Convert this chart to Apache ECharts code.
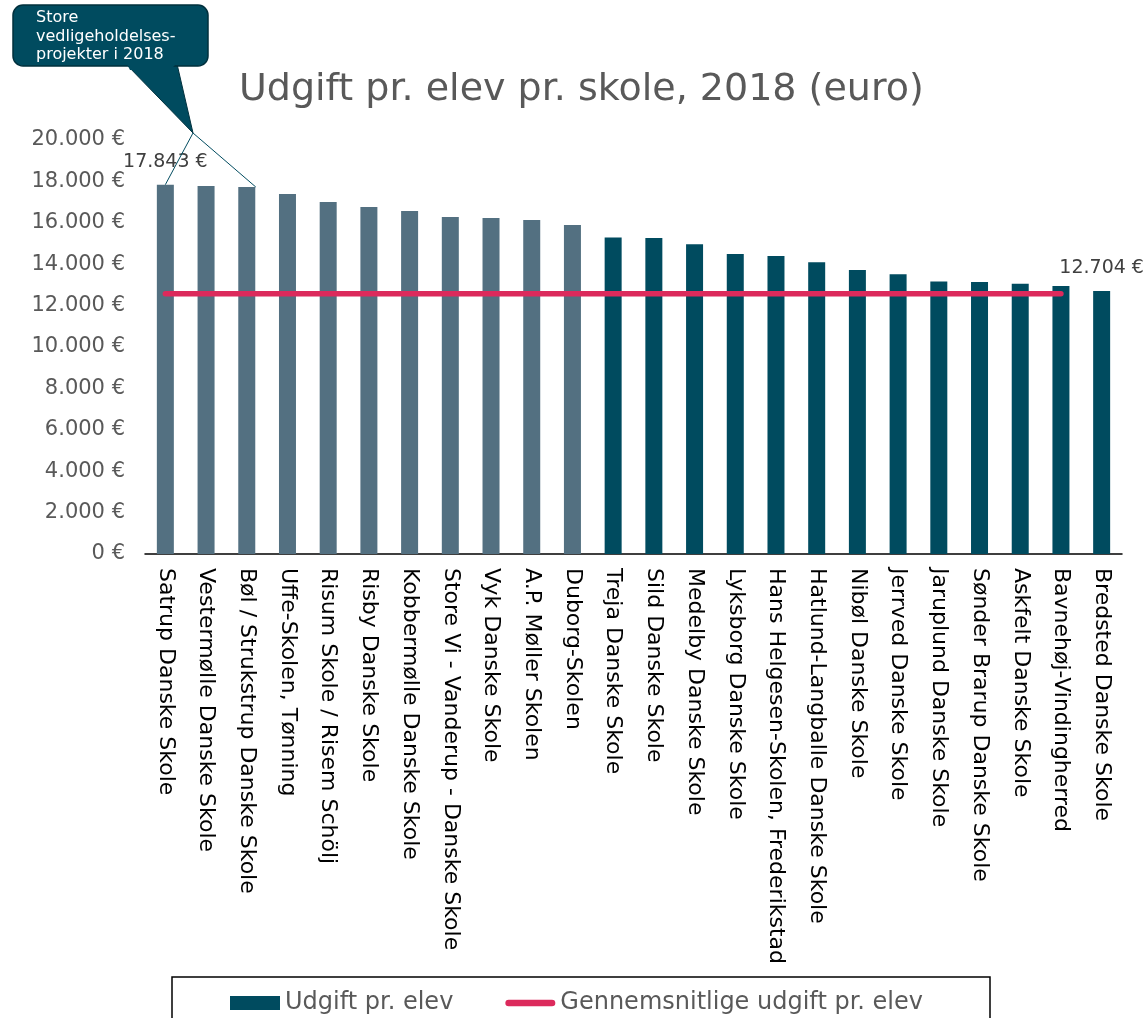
<!DOCTYPE html>
<html>
<head>
<meta charset="utf-8">
<script src="https://cdn.jsdelivr.net/npm/echarts@6/dist/echarts.min.js"></script>
<style>
  html, body { margin: 0; padding: 0; background: #fff; }
  #chart { width: 1144px; height: 1018px; }
</style>
</head>
<body>
<div id="chart"></div>
<script>
// skoler, sorteret efter udgift
const schools = [
  "Satrup Danske Skole", "Vestermølle Danske Skole", "Bøl / Strukstrup Danske Skole",
  "Uffe-Skolen, Tønning", "Risum Skole / Risem Schölj", "Risby Danske Skole",
  "Kobbermølle Danske Skole", "Store Vi - Vanderup - Danske Skole", "Vyk Danske Skole",
  "A.P. Møller Skolen", "Duborg-Skolen", "Treja Danske Skole", "Sild Danske Skole",
  "Medelby Danske Skole", "Lyksborg Danske Skole", "Hans Helgesen-Skolen, Frederikstad",
  "Hatlund-Langballe Danske Skole", "Nibøl Danske Skole", "Jerrved Danske Skole",
  "Jaruplund Danske Skole", "Sønder Brarup Danske Skole", "Askfelt Danske Skole",
  "Bavnehøj-Vindingherred", "Bredsted Danske Skole"
];
const spendPerPupil = [
  17843, 17780, 17730, 17390, 17000, 16760, 16570, 16280, 16230, 16130, 15890, 15290,
  15270, 14960, 14490, 14400, 14090, 13720, 13510, 13170, 13140, 13060, 12950, 12704
];
const averageSpend = [
  12570, 12570, 12570, 12570, 12570, 12570, 12570, 12570, 12570, 12570, 12570, 12570,
  12570, 12570, 12570, 12570, 12570, 12570, 12570, 12570, 12570, 12570, 12570, null
];
const yTicks = [0, 2000, 4000, 6000, 8000, 10000, 12000, 14000, 16000, 18000, 20000];
const maintenanceCount = 11; // skoler med store vedligeholdelsesprojekter
const labelled = [0, 23];

const font = "DejaVu Sans";
const grey = "#537081";
const teal = "#004B5F";
const pink = "#DC2A5C";

function euro(v) {
  return String(v).replace(/\B(?=(\d{3})+(?!\d))/g, ".") + " €";
}

const chart = echarts.init(document.getElementById("chart"));

const option = {
  animation: false,
  textStyle: { fontFamily: font },
  title: {
    text: "Udgift pr. elev pr. skole, 2018 (euro)",
    left: 234,
    top: 66,
    textStyle: { fontFamily: font, fontSize: 38, fontWeight: "normal", color: "#595959" }
  },
  grid: { left: 145, right: 22, top: 140, bottom: 464, containLabel: false },
  legend: {
    left: 225,
    top: 986,
    itemWidth: 50,
    itemHeight: 14,
    itemGap: 52,
    textStyle: { fontFamily: font, fontSize: 24, color: "#595959" },
    data: [
      { name: "Udgift pr. elev", icon: "rect" },
      {
        name: "Gennemsnitlige udgift pr. elev",
        icon: "path://M3,0 H42 A3,3 0 0 1 42,6 H3 A3,3 0 0 1 3,0 Z",
        itemStyle: { color: pink }
      }
    ]
  },
  xAxis: {
    type: "category",
    data: schools,
    axisLine: { lineStyle: { color: "#000", width: 1.5 } },
    axisTick: { show: false },
    axisLabel: {
      rotate: -90,
      interval: 0,
      margin: 14,
      fontFamily: font,
      fontSize: 22,
      color: "#000"
    }
  },
  yAxis: {
    type: "value",
    min: yTicks[0],
    max: yTicks[yTicks.length - 1],
    interval: 2000,
    splitLine: { show: false },
    axisLine: { show: false },
    axisTick: { show: false },
    axisLabel: {
      margin: 20,
      fontFamily: font,
      fontSize: 21,
      color: "#595959",
      formatter: euro
    }
  },
  series: [
    {
      name: "Udgift pr. elev",
      type: "bar",
      barWidth: 17,
      itemStyle: { color: teal },
      data: spendPerPupil.map((v, i) => ({
        value: v,
        itemStyle: i < maintenanceCount ? { color: grey } : undefined,
        label: labelled.includes(i) ? { show: true } : undefined
      })),
      label: {
        show: false,
        position: "top",
        distance: 13,
        fontFamily: font,
        fontSize: 19,
        color: "#404040",
        formatter: p => euro(p.value)
      },
      z: 2
    },
    {
      name: "Gennemsnitlige udgift pr. elev",
      type: "line",
      data: averageSpend,
      symbol: "none",
      color: pink,
      lineStyle: { color: pink, width: 5.5, cap: "round" },
      z: 3
    }
  ]
};

chart.setOption(option);

// callout med forbindelseslinjer til søjlerne
const tip = [193, 133];
const firstTop = chart.convertToPixel({ seriesIndex: 0 }, [0, spendPerPupil[0]]);
const thirdTop = chart.convertToPixel({ seriesIndex: 0 }, [2, spendPerPupil[2]]);

chart.setOption({
  graphic: [
    {
      type: "rect",
      shape: { x: 172, y: 977, width: 818, height: 70 },
      style: { fill: "none", stroke: "#000", lineWidth: 1.5 },
      silent: true
    },
    {
      type: "line",
      shape: { x1: tip[0], y1: tip[1], x2: firstTop[0], y2: firstTop[1] },
      style: { stroke: teal, lineWidth: 1 },
      z: 10
    },
    {
      type: "line",
      shape: { x1: tip[0], y1: tip[1], x2: thirdTop[0] + 9, y2: thirdTop[1] },
      style: { stroke: teal, lineWidth: 1 },
      z: 10
    },
    {
      type: "polygon",
      shape: { points: [[126, 64], [177, 64], tip] },
      style: { fill: teal, stroke: "#00303D", lineWidth: 1 },
      z: 10
    },
    {
      type: "rect",
      shape: { x: 13, y: 5, width: 195, height: 61, r: 10 },
      style: { fill: teal, stroke: "#00303D", lineWidth: 1.5 },
      z: 11
    },
    {
      type: "polygon",
      shape: { points: [[127, 64], [176, 64], [170, 70], [130, 70]] },
      style: { fill: teal },
      z: 12
    },
    {
      type: "text",
      left: 36,
      top: 9,
      style: {
        text: "Store\nvedligeholdelses-\nprojekter i 2018",
        fill: "#fff",
        font: "16px 'DejaVu Sans'",
        lineHeight: 18.5
      },
      z: 13
    }
  ]
});
</script>
</body>
</html>
